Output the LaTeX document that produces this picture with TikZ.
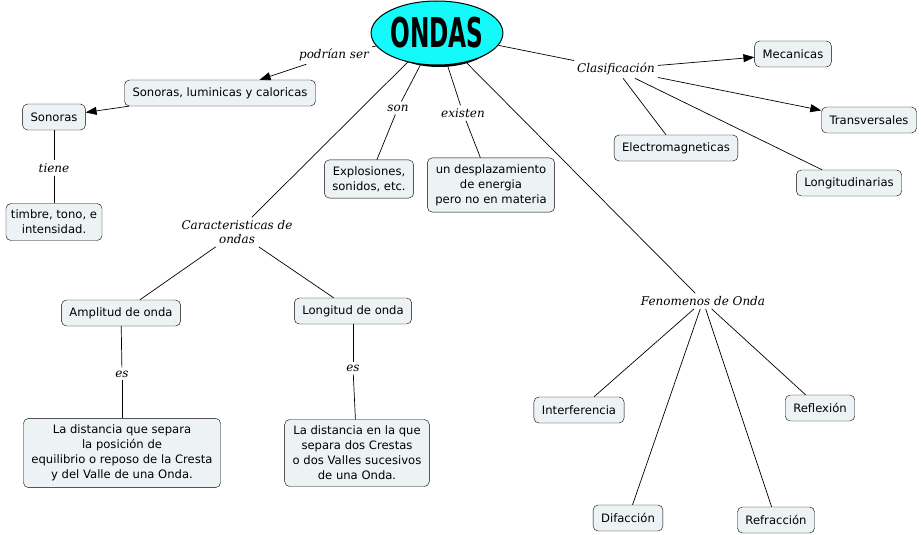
\documentclass[tikz,border=0pt]{standalone}
\usepackage{fontspec}
\usepackage{graphicx}
\setmainfont{DejaVu Sans}
\newfontfamily\linkfont{DejaVu Serif}
\newfontfamily\titlefont{DejaVu Sans Condensed}
\usetikzlibrary{shapes.geometric,arrows.meta}
\definecolor{boxfill}{RGB}{237,243,244}
\definecolor{ondacyan}{RGB}{20,250,250}
\begin{document}
\begin{tikzpicture}[x=1pt,y=-1pt,
  concept/.style={draw,rounded corners=5pt,fill=boxfill,align=center,inner xsep=8pt,inner ysep=6.5pt,
    minimum height=26pt,font=\fontsize{11.6}{15}\selectfont},
  link/.style={font=\linkfont\itshape\fontsize{12}{14}\selectfont,align=center,inner sep=3pt},
  conn/.style={line width=0.7pt},
  arr/.style={conn,-{Triangle[length=11pt,width=8pt]}}]
\useasboundingbox (0,0) rectangle (921,535);
\fill[black] (439,35) ellipse (59pt and 32pt);
\node[ellipse,draw,line width=1pt,fill=ondacyan,minimum width=118pt,minimum height=64pt,inner sep=0pt] (ondas) at (437,33)
  {\scalebox{0.63}[1]{\titlefont\bfseries\fontsize{41}{41}\selectfont ONDAS}};
\node[link] (podrian) at (334,55) {podrían ser};
\node[concept] (sonlum) at (220,93) {Sonoras, luminicas y caloricas};
\node[concept] (sonoras) at (54,117) {Sonoras};
\node[link] (tiene) at (54,168) {tiene};
\node[concept,inner xsep=5pt] (timbre) at (54,222) {timbre, tono, e\\intensidad.};
\node[link] (caract) at (237,232) {Caracteristicas de\\ondas};
\node[link] (son) at (398,108) {son};
\node[link] (existen) at (463,113) {existen};
\node[concept] (explos) at (369,179) {Explosiones,\\sonidos, etc.};
\node[concept] (desplaz) at (491,185) {un desplazamiento\\de energia\\pero no en materia};
\node[link] (clasif) at (616,69) {Clasificación};
\node[concept] (mecan) at (793,54) {Mecanicas};
\node[concept] (transv) at (869,120) {Transversales};
\node[concept] (electro) at (676,148) {Electromagneticas};
\node[concept] (longit) at (849,183) {Longitudinarias};
\node[concept] (amplitud) at (121,313) {Amplitud de onda};
\node[concept] (longonda) at (353,311) {Longitud de onda};
\node[link] (es1) at (122,374) {es};
\node[link] (es2) at (353,368) {es};
\node[concept] (defamp) at (122,453) {La distancia que separa\\la posición de\\equilibrio o reposo de la Cresta\\y del Valle de una Onda.};
\node[concept] (deflong) at (357,453) {La distancia en la que\\separa dos Crestas\\o dos Valles sucesivos\\de una Onda.};
\node[link] (fenom) at (703,301) {Fenomenos de Onda};
\node[concept] (interf) at (579,410) {Interferencia};
\node[concept] (reflex) at (820,408) {Reflexión};
\node[concept] (difac) at (628,518) {Difacción};
\node[concept] (refrac) at (776,520) {Refracción};
\draw[conn] (ondas) -- (podrian);
\draw[arr] (podrian) -- (sonlum);
\draw[arr] (sonlum) -- (sonoras);
\draw[conn] (sonoras) -- (tiene);
\draw[conn] (tiene) -- (timbre);
\draw[conn] (ondas) -- (caract);
\draw[conn] (caract) -- (amplitud);
\draw[conn] (caract) -- (longonda);
\draw[conn] (amplitud) -- (es1);
\draw[conn] (es1) -- (defamp);
\draw[conn] (longonda) -- (es2);
\draw[conn] (es2) -- (deflong);
\draw[conn] (ondas) -- (son);
\draw[conn] (son) -- (explos);
\draw[conn] (ondas) -- (existen);
\draw[conn] (existen) -- (desplaz);
\draw[conn] (ondas) -- (clasif);
\draw[arr] (clasif) -- (mecan);
\draw[arr] (clasif) -- (transv);
\draw[conn] (clasif) -- (electro);
\draw[conn] (clasif) -- (longit);
\draw[conn] (ondas) -- (fenom);
\draw[conn] (fenom) -- (interf);
\draw[conn] (fenom) -- (difac);
\draw[conn] (fenom) -- (refrac);
\draw[conn] (fenom) -- (reflex);
\end{tikzpicture}
\end{document}
